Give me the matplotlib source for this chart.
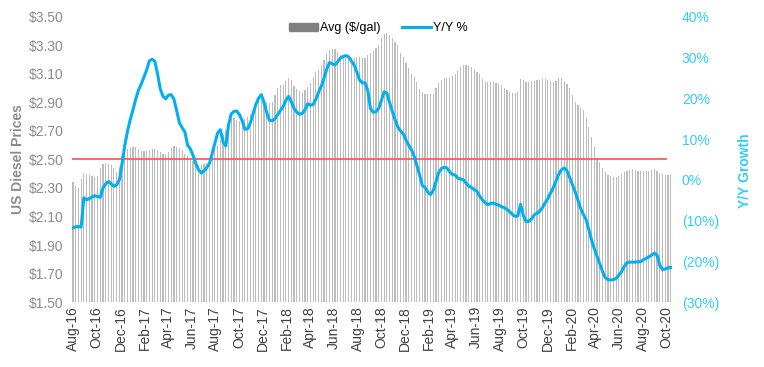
#!/usr/bin/env python3
"""US diesel price (weekly avg) vs year-over-year growth."""

import matplotlib
matplotlib.use('Agg')
import matplotlib.pyplot as plt
import matplotlib.dates as mdates
import matplotlib.patches as mpatches
import matplotlib.lines as mlines
from matplotlib.ticker import FuncFormatter, MultipleLocator
import numpy as np
import pandas as pd

plt.rcParams['font.family'] = ['Liberation Sans', 'DejaVu Sans']

# =========================================================================
# Data (weekly, starting first week of Aug 2016)
# =========================================================================

start_date = '2016-08-01'

avg_price = [
    2.344, 2.316, 2.300, 2.360, 2.405, 2.398, 2.390, 2.384, 2.380, 2.384,
    2.438, 2.470, 2.475, 2.470, 2.460, 2.438, 2.414, 2.449, 2.525, 2.560,
    2.570, 2.578, 2.585, 2.590, 2.575, 2.562, 2.557, 2.560, 2.567, 2.575,
    2.572, 2.567, 2.550, 2.540, 2.530, 2.555, 2.578, 2.593, 2.590, 2.578,
    2.567, 2.540, 2.525, 2.505, 2.488, 2.465, 2.460, 2.460, 2.470, 2.478,
    2.485, 2.520, 2.575, 2.600, 2.640, 2.670, 2.710, 2.760, 2.785, 2.789,
    2.780, 2.772, 2.770, 2.785, 2.800, 2.817, 2.860, 2.890, 2.915, 2.915,
    2.910, 2.900, 2.895, 2.900, 2.955, 3.000, 3.023, 3.023, 3.050, 3.074,
    3.058, 3.015, 2.995, 2.980, 2.965, 2.990, 3.010, 3.035, 3.080, 3.110,
    3.128, 3.160, 3.200, 3.240, 3.270, 3.275, 3.275, 3.255, 3.235, 3.221,
    3.221, 3.218, 3.210, 3.215, 3.221, 3.216, 3.212, 3.210, 3.235, 3.250,
    3.260, 3.280, 3.300, 3.350, 3.380, 3.385, 3.374, 3.352, 3.325, 3.300,
    3.250, 3.220, 3.175, 3.140, 3.100, 3.081, 3.040, 2.995, 2.970, 2.962,
    2.960, 2.960, 2.962, 3.000, 3.035, 3.055, 3.070, 3.074, 3.074, 3.085,
    3.100, 3.125, 3.150, 3.163, 3.163, 3.155, 3.145, 3.135, 3.115, 3.098,
    3.065, 3.040, 3.042, 3.046, 3.044, 3.038, 3.030, 3.020, 2.998, 2.985,
    2.976, 2.965, 2.968, 2.970, 3.065, 3.058, 3.046, 3.046, 3.048, 3.050,
    3.056, 3.060, 3.065, 3.065, 3.060, 3.050, 3.046, 3.050, 3.070, 3.074,
    3.050, 3.030, 3.004, 2.950, 2.900, 2.880, 2.862, 2.845, 2.789, 2.725,
    2.660, 2.590, 2.510, 2.480, 2.440, 2.410, 2.391, 2.382, 2.380, 2.380,
    2.385, 2.400, 2.415, 2.420, 2.426, 2.430, 2.426, 2.420, 2.419, 2.419,
    2.419, 2.422, 2.428, 2.433, 2.420, 2.405, 2.396, 2.391, 2.393, 2.396,
]

yoy_pct = [
    -11.8, -11.5, -11.5, -11.6, -4.4, -4.9, -4.6, -4.2, -3.9, -4.1,
    -4.3, -2.0, -1.0, -0.4, -1.0, -1.6, -1.2, 0.0, 4.0, 8.5,
    12.0, 14.8, 17.2, 19.8, 22.0, 23.5, 25.2, 27.0, 29.2, 29.6,
    29.1, 26.0, 22.3, 20.5, 19.9, 20.8, 20.9, 19.8, 17.0, 14.0,
    12.8, 11.8, 8.5, 7.6, 6.0, 4.0, 2.5, 1.7, 2.2, 3.0,
    4.0, 6.5, 9.0, 11.5, 12.3, 9.3, 8.3, 13.5, 16.2, 16.8,
    16.9, 16.0, 14.5, 12.4, 12.5, 14.0, 16.2, 18.5, 20.0, 20.9,
    19.0, 16.5, 14.6, 14.5, 15.0, 16.0, 17.0, 18.0, 19.5, 20.5,
    19.2, 17.5, 16.6, 16.1, 16.3, 17.2, 18.7, 18.3, 18.5, 19.8,
    21.5, 23.0, 25.0, 27.2, 28.8, 28.5, 28.2, 29.0, 29.9, 30.3,
    30.5, 30.2, 29.2, 28.2, 26.5, 24.5, 23.8, 23.8, 22.0, 17.5,
    16.6, 16.7, 17.5, 19.5, 21.6, 21.3, 19.0, 16.8, 14.8, 13.0,
    12.0, 11.3, 9.8, 8.5, 7.4, 5.8, 3.5, 1.2, -1.4, -1.9,
    -3.0, -3.6, -2.6, -0.5, 1.8, 2.8, 3.1, 2.9, 2.0, 1.3,
    1.2, 0.4, 0.2, 0.0, -0.8, -1.5, -1.9, -2.4, -2.8, -4.0,
    -4.9, -5.6, -6.1, -5.8, -5.7, -6.0, -6.2, -6.6, -6.8, -7.3,
    -7.8, -8.5, -9.0, -8.8, -6.0, -8.8, -10.2, -10.2, -9.6, -8.6,
    -8.2, -7.7, -6.8, -5.6, -4.6, -3.2, -1.9, -0.2, 1.4, 2.5,
    2.9, 2.2, 0.5, -1.2, -3.0, -5.0, -7.0, -8.5, -9.8, -12.2,
    -14.8, -16.9, -18.8, -20.6, -22.5, -24.0, -24.5, -24.6, -24.5, -24.2,
    -23.4, -22.5, -21.2, -20.3, -20.2, -20.2, -20.2, -20.1, -20.1, -19.6,
    -19.3, -18.9, -18.5, -18.0, -18.5, -21.0, -22.0, -21.9, -21.6, -21.5,
]

period_avg = 2.50   # red reference line

dates = pd.date_range(start_date, periods=len(avg_price), freq='W-MON')

# =========================================================================
# Chart
# =========================================================================

bar_color = '#bcbcbc'
line_color = '#00b0f0'
axis_gray = '#8c8c8c'
right_color = '#33ccff'

fig = plt.figure(figsize=(7.64, 3.67), dpi=100)
ax = fig.add_axes([0.0937, 0.177, 0.786, 0.777])
ax2 = ax.twinx()

ax.bar(dates, avg_price, width=3.0, color=bar_color, linewidth=0, zorder=2)
ax.axhline(period_avg, xmin=0.0, xmax=0.99, color='#ff5b5b', linewidth=1.3, zorder=3)
ax2.plot(dates, yoy_pct, color=line_color, linewidth=2.2, zorder=5)

half_week = pd.Timedelta(days=3.5)
ax.set_xlim(dates[0] - half_week, dates[-1] + half_week)

ax.set_ylim(1.5, 3.5)
ax.set_yticks(np.arange(1.5, 3.51, 0.2))
ax.yaxis.set_major_formatter(FuncFormatter(lambda v, p: f'${v:.2f}'))
ax2.set_ylim(-30, 40)
ax2.yaxis.set_major_locator(MultipleLocator(10))
ax2.yaxis.set_major_formatter(
    FuncFormatter(lambda v, p: f'{v:.0f}%' if v >= 0 else f'({-v:.0f}%)'))

ax.xaxis.set_major_locator(mdates.MonthLocator(bymonth=[2, 4, 6, 8, 10, 12]))
ax.xaxis.set_major_formatter(mdates.DateFormatter('%b-%y'))

for a in (ax, ax2):
    for s in a.spines.values():
        s.set_visible(False)

ax.tick_params(axis='y', length=0, pad=6, labelsize=10, labelcolor=axis_gray)
ax.tick_params(axis='x', length=0, pad=3, labelsize=10, labelcolor='#404040',
               labelrotation=90)
ax2.tick_params(axis='y', length=0, pad=7, labelsize=10, labelcolor=right_color)

ax.set_ylabel('US Diesel Prices', fontsize=10, fontweight='bold', color=axis_gray)
ax.yaxis.set_label_coords(-0.077, 0.5)
ax2.set_ylabel('Y/Y Growth', fontsize=10, fontweight='bold', color=right_color)
ax2.yaxis.set_label_coords(1.11, 0.46)

handles = [mpatches.Patch(color='#808080', label='Avg ($/gal)'),
           mlines.Line2D([], [], color=line_color, linewidth=2.2, label='Y/Y %')]
ax.legend(handles=handles, loc='upper center', bbox_to_anchor=(0.511, 1.02),
          ncol=2, frameon=False, fontsize=9, handlelength=2.3,
          handleheight=0.5, columnspacing=1.7, handletextpad=0.2)

plt.savefig('out.png', dpi=100, facecolor='white')
print("Saved out.png")
